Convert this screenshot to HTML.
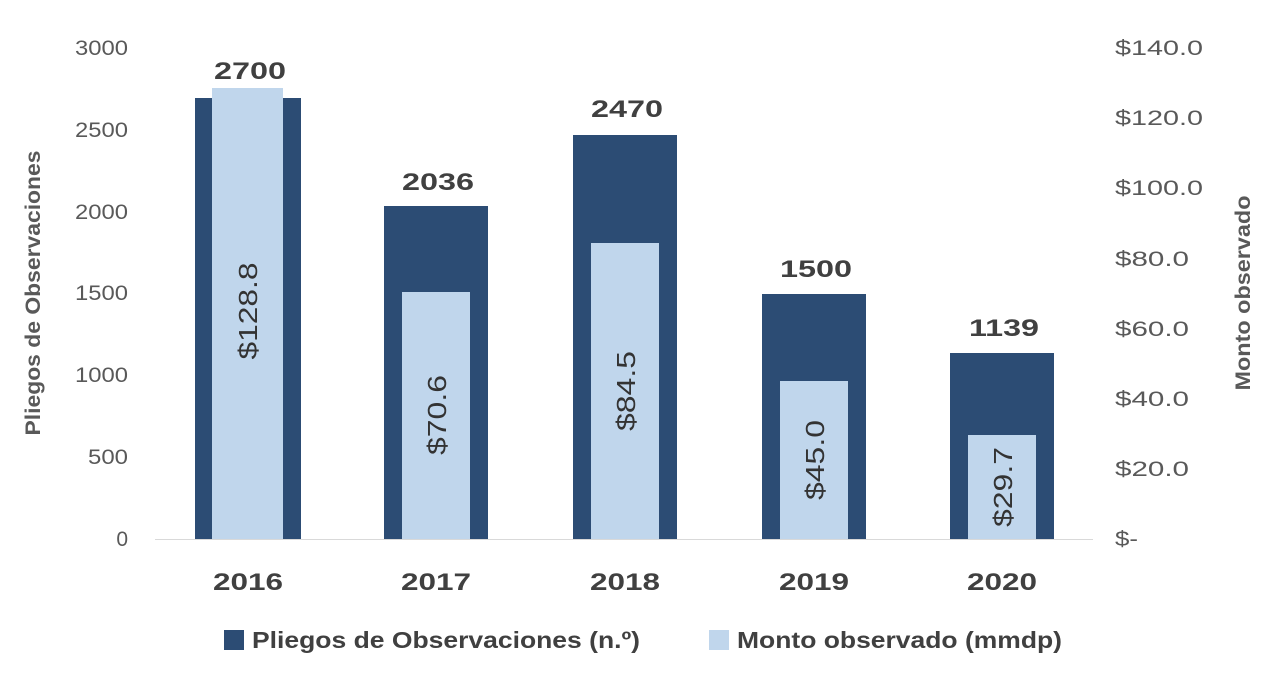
<!DOCTYPE html>
<html><head><meta charset="utf-8"><style>
body{margin:0;background:#fff;}
svg text{font-family:"Liberation Sans",sans-serif;}
</style></head><body>
<svg width="1276" height="692" viewBox="0 0 1276 692">
<rect width="1276" height="692" fill="#fff"/>
<line x1="155" y1="539.5" x2="1093" y2="539.5" stroke="#d9d9d9" stroke-width="1"/>
<g fill="#595959" font-size="21" text-anchor="end">
<text x="128" y="546">0</text>
<text x="128" y="464" textLength="40" lengthAdjust="spacingAndGlyphs">500</text>
<text x="128" y="382" textLength="53" lengthAdjust="spacingAndGlyphs">1000</text>
<text x="128" y="300" textLength="53" lengthAdjust="spacingAndGlyphs">1500</text>
<text x="128" y="219" textLength="53" lengthAdjust="spacingAndGlyphs">2000</text>
<text x="128" y="137" textLength="53" lengthAdjust="spacingAndGlyphs">2500</text>
<text x="128" y="55" textLength="53" lengthAdjust="spacingAndGlyphs">3000</text>
</g>
<g fill="#595959" font-size="21">
<text x="1115" y="546" textLength="23" lengthAdjust="spacingAndGlyphs">$-</text>
<text x="1115" y="476" textLength="74" lengthAdjust="spacingAndGlyphs">$20.0</text>
<text x="1115" y="406" textLength="74" lengthAdjust="spacingAndGlyphs">$40.0</text>
<text x="1115" y="336" textLength="74" lengthAdjust="spacingAndGlyphs">$60.0</text>
<text x="1115" y="266" textLength="74" lengthAdjust="spacingAndGlyphs">$80.0</text>
<text x="1115" y="195" textLength="88" lengthAdjust="spacingAndGlyphs">$100.0</text>
<text x="1115" y="125" textLength="88" lengthAdjust="spacingAndGlyphs">$120.0</text>
<text x="1115" y="55" textLength="88" lengthAdjust="spacingAndGlyphs">$140.0</text>
</g>
<text transform="translate(40,293) rotate(-90)" font-size="21" font-weight="bold" fill="#595959" text-anchor="middle" textLength="285" lengthAdjust="spacingAndGlyphs">Pliegos de Observaciones</text>
<text transform="translate(1250,293) rotate(-90)" font-size="21" font-weight="bold" fill="#595959" text-anchor="middle" textLength="195" lengthAdjust="spacingAndGlyphs">Monto observado</text>
<g fill="#2c4c74">
<rect x="195" y="98" width="106" height="441"/>
<rect x="384" y="206" width="104" height="333"/>
<rect x="573" y="135" width="104" height="404"/>
<rect x="762" y="294" width="104" height="245"/>
<rect x="950" y="353" width="104" height="186"/>
</g>
<g fill="#c0d6ec">
<rect x="212" y="88" width="71" height="451"/>
<rect x="402" y="292" width="68" height="247"/>
<rect x="591" y="243" width="68" height="296"/>
<rect x="780" y="381" width="68" height="158"/>
<rect x="968" y="435" width="68" height="104"/>
</g>
<g fill="#404040" font-size="24" font-weight="bold" text-anchor="middle" lengthAdjust="spacingAndGlyphs">
<text x="250" y="79" textLength="72" lengthAdjust="spacingAndGlyphs">2700</text>
<text x="438" y="190" textLength="72" lengthAdjust="spacingAndGlyphs">2036</text>
<text x="627" y="117" textLength="72" lengthAdjust="spacingAndGlyphs">2470</text>
<text x="816" y="277" textLength="72" lengthAdjust="spacingAndGlyphs">1500</text>
<text x="1004" y="336" textLength="70" lengthAdjust="spacingAndGlyphs">1139</text>
</g>
<g fill="#333" font-size="26" text-anchor="middle">
<text transform="translate(257,311) rotate(-90)" textLength="97" lengthAdjust="spacingAndGlyphs">$128.8</text>
<text transform="translate(446,415) rotate(-90)" textLength="80" lengthAdjust="spacingAndGlyphs">$70.6</text>
<text transform="translate(635,391) rotate(-90)" textLength="80" lengthAdjust="spacingAndGlyphs">$84.5</text>
<text transform="translate(824,460) rotate(-90)" textLength="80" lengthAdjust="spacingAndGlyphs">$45.0</text>
<text transform="translate(1012,487) rotate(-90)" textLength="80" lengthAdjust="spacingAndGlyphs">$29.7</text>
</g>
<g fill="#404040" font-size="24" font-weight="bold" text-anchor="middle">
<text x="248" y="590" textLength="70" lengthAdjust="spacingAndGlyphs">2016</text>
<text x="436" y="590" textLength="70" lengthAdjust="spacingAndGlyphs">2017</text>
<text x="625" y="590" textLength="70" lengthAdjust="spacingAndGlyphs">2018</text>
<text x="814" y="590" textLength="70" lengthAdjust="spacingAndGlyphs">2019</text>
<text x="1002" y="590" textLength="70" lengthAdjust="spacingAndGlyphs">2020</text>
</g>
<rect x="224" y="630" width="20" height="20" fill="#2c4c74"/>
<text x="252" y="648" font-size="23" font-weight="bold" fill="#404040" textLength="388" lengthAdjust="spacingAndGlyphs">Pliegos de Observaciones (n.º)</text>
<rect x="709" y="630" width="20" height="20" fill="#c0d6ec"/>
<text x="737" y="648" font-size="23" font-weight="bold" fill="#404040" textLength="325" lengthAdjust="spacingAndGlyphs">Monto observado (mmdp)</text>
</svg>
</body></html>
